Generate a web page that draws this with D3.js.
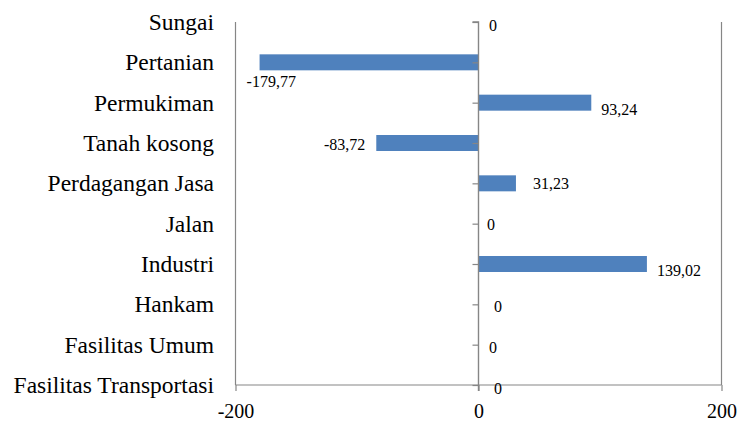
<!DOCTYPE html>
<html>
<head>
<meta charset="utf-8">
<script src="https://cdn.jsdelivr.net/npm/d3@7"></script>
<style>
  html, body { margin: 0; padding: 0; background: #fff; }
  svg { display: block; }
</style>
</head>
<body>
<svg id="chart" width="742" height="423"></svg>
<script>
// ---- data ----
const categories = ["Sungai", "Pertanian", "Permukiman", "Tanah kosong", "Perdagangan Jasa",
  "Jalan", "Industri", "Hankam", "Fasilitas Umum", "Fasilitas Transportasi"];
const values = [0, -179.77, 93.24, -83.72, 31.23, 0, 139.02, 0, 0, 0];
const valueLabels = ["0", "-179,77", "93,24", "-83,72", "31,23", "0", "139,02", "0", "0", "0"];
const xTicks = [-200, 0, 200];
const xTickLabels = ["-200", "0", "200"];

// ---- layout (label placement, as hand-positioned in the original) ----
const labelOffsets = [
  { anchor: "start", dx: 11, dy: 3 },
  { anchor: "start", dx: -13, dy: 19 },
  { anchor: "start", dx: 10, dy: 7 },
  { anchor: "end", dx: -11, dy: 1 },
  { anchor: "start", dx: 17, dy: 0 },
  { anchor: "start", dx: 9, dy: 1 },
  { anchor: "start", dx: 10, dy: 6 },
  { anchor: "start", dx: 16, dy: 2 },
  { anchor: "start", dx: 11, dy: 3 },
  { anchor: "start", dx: 16, dy: 3 }
];

const FONT = "'Liberation Serif', 'Times New Roman', Times, Tinos, 'DejaVu Serif', 'Noto Serif', 'Nimbus Roman', FreeSerif, serif";
const svg = d3.select("#chart");
const grey = "#868686";

const x = d3.scaleLinear().domain([-200, 200]).range([235, 721]);
const y = d3.scalePoint().domain(categories).range([22, 385]);
const plotTop = 22, plotBottom = 385, barH = 16;

// vertical gridlines at -200 and 200
svg.append("g").selectAll("line")
  .data(xTicks.filter(t => t !== 0))
  .join("line")
  .attr("x1", d => Math.round(x(d)) + 0.5).attr("x2", d => Math.round(x(d)) + 0.5)
  .attr("y1", plotTop).attr("y2", plotBottom)
  .attr("stroke", grey).attr("stroke-width", 1.2);

// bars
svg.append("g").selectAll("rect")
  .data(values.map((v, i) => ({ v, c: categories[i] })).filter(d => d.v !== 0))
  .join("rect")
  .attr("x", d => x(Math.min(0, d.v)))
  .attr("width", d => Math.abs(x(d.v) - x(0)))
  .attr("y", d => y(d.c) - barH / 2)
  .attr("height", barH)
  .attr("fill", "#4F81BD");

// bottom axis
const xAxis = d3.axisBottom(x).tickValues(xTicks).tickSize(6).tickPadding(8)
  .tickFormat((d, i) => xTickLabels[i]);
const gx = svg.append("g").attr("transform", `translate(0.5,${plotBottom})`).call(xAxis)
  .attr("font-family", FONT);
gx.select(".domain").attr("stroke", grey).attr("stroke-width", 1.2).attr("d", `M${x(-200)},0H${x(200)}`);
gx.selectAll(".tick line").attr("stroke", grey).attr("stroke-width", 1.2);
gx.selectAll(".tick text")
  .attr("font-family", FONT)
  .attr("font-size", 20).attr("fill", "#000").attr("dy", null).attr("y", 33);

// category axis on zero line
const yAxis = d3.axisLeft(y).tickSize(6).tickFormat("");
const gy = svg.append("g").attr("transform", `translate(${Math.round(x(0)) + 0.5},0)`).call(yAxis);
gy.select(".domain").attr("stroke", grey).attr("stroke-width", 1.4).attr("d", `M-6,${plotTop}H0V${plotBottom + 6}`);
gy.selectAll(".tick line").attr("stroke", grey).attr("stroke-width", 1.2);

// category labels
svg.append("g").selectAll("text")
  .data(categories)
  .join("text")
  .attr("x", 214)
  .attr("y", d => y(d) + 8)
  .attr("text-anchor", "end")
  .attr("font-family", FONT)
  .attr("font-size", 23.5)
  .attr("fill", "#000")
  .text(d => d);

// value labels
svg.append("g").selectAll("text")
  .data(values)
  .join("text")
  .attr("x", (v, i) => x(v) + labelOffsets[i].dx)
  .attr("y", (v, i) => y(categories[i]) + labelOffsets[i].dy + 5.5)
  .attr("text-anchor", (v, i) => labelOffsets[i].anchor)
  .attr("font-family", FONT)
  .attr("font-size", 16)
  .attr("fill", "#000")
  .text((v, i) => valueLabels[i]);
</script>
</body>
</html>
